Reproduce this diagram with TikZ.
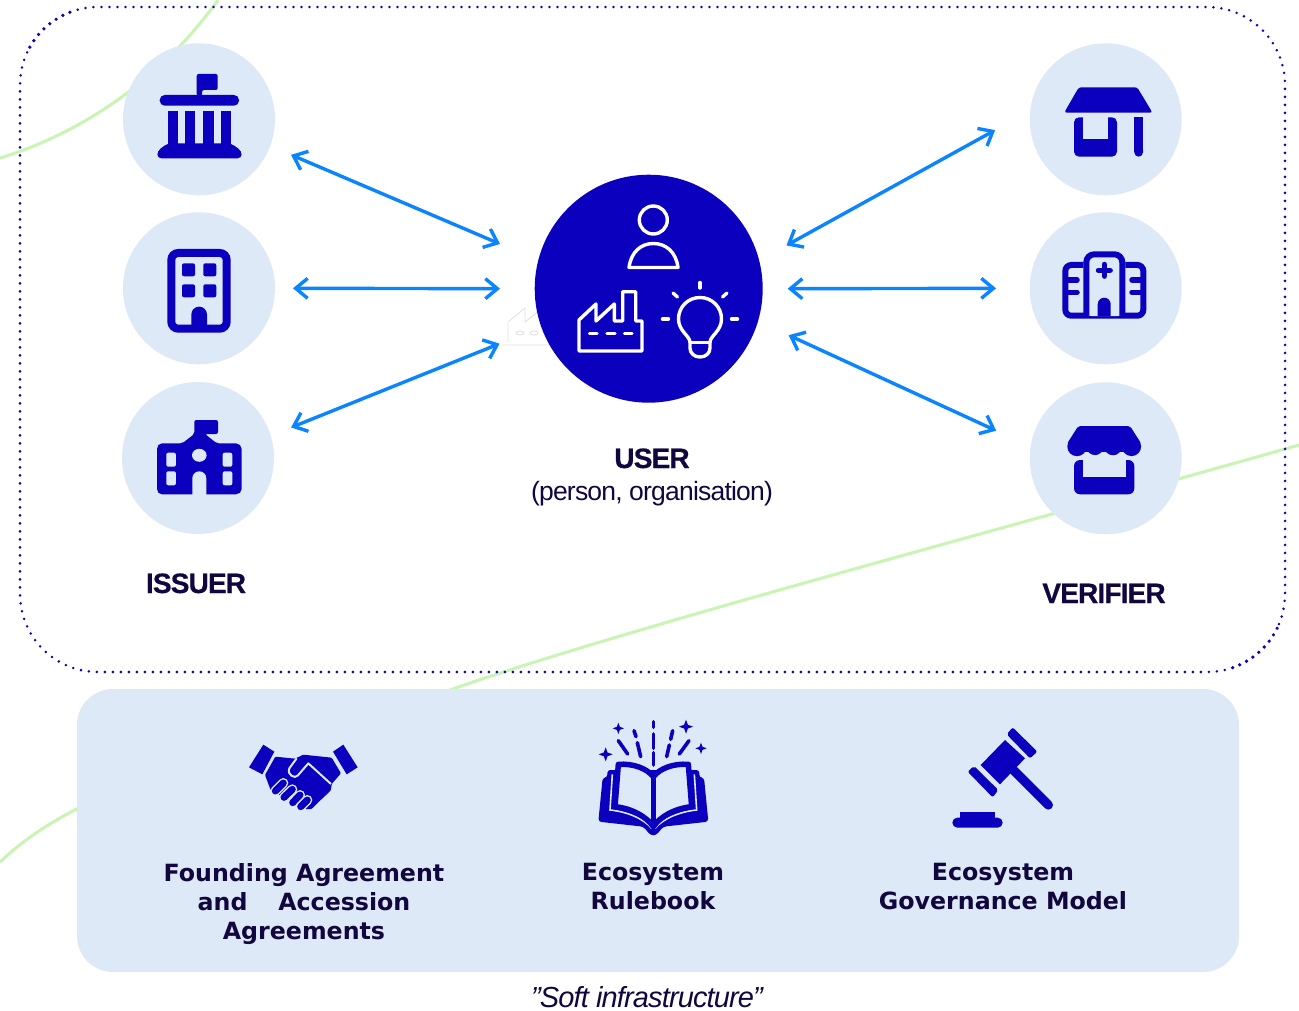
\documentclass[tikz,border=0pt]{standalone}
\usepackage{fontspec}
\usetikzlibrary{arrows.meta}
\setmainfont{Liberation Sans}
\newfontfamily\headfont[LetterSpace=-3,BoldFeatures={FakeBold=0.6}]{Liberation Sans}
\newfontfamily\panelfont{DejaVu Sans}
\definecolor{royal}{HTML}{0A00BD}
\definecolor{pale}{HTML}{DDE9F6}
\definecolor{sky}{HTML}{0A84FF}
\definecolor{ink}{HTML}{12063F}
\definecolor{lime}{HTML}{C9F5B4}
\begin{document}
\begin{tikzpicture}[
    x=1pt,y=-1pt,
    peer/.style={circle,fill=pale,minimum size=152pt,inner sep=0pt,outer sep=18pt},
    hub/.style={circle,fill=royal,minimum size=228pt,inner sep=0pt,outer sep=25pt},
    link/.style={draw=sky,line width=3.4pt,{Straight Barb[length=12pt,width=20pt]}-{Straight Barb[length=12pt,width=20pt]}},
    role/.style={text=ink,font=\headfont\bfseries\fontsize{28}{30}\selectfont,anchor=base},
    pact/.style={text=ink,align=center,anchor=north,font=\panelfont\bfseries\fontsize{23.7}{29}\selectfont},
    glyph/.style={fill=royal,rounded corners=2pt},
    thin glyph/.style={draw=white,line width=3.4pt,line cap=round,line join=round},
    rim/.style={royal,line width=2.8pt,line cap=round,dash pattern=on 0pt off 8pt}
]
    \useasboundingbox (0,0) rectangle (1299,1011);
    \fill[white] (0,0) rectangle (1299,1011);

    % Background strokes
    \draw[lime,line width=3pt] (0,158) .. controls (60,140) and (150,95) .. (218,0);
    \draw[lime,line width=3pt] (1299,445) .. controls (1000,530) and (620,630) .. (450,690) .. controls (250,745) and (85,780) .. (0,862);

    % Frame
    \draw[rim] (98,85) ++(249:78) arc[start angle=249,end angle=270,radius=78] -- (1207,7) arc[start angle=270,end angle=360,radius=78] -- (1285,594) arc[start angle=0,end angle=26,radius=78];
    \draw[rim] (1207,594) ++(71:78) arc[start angle=71,end angle=90,radius=78] -- (98,672) arc[start angle=90,end angle=180,radius=78] -- (20,85) arc[start angle=180,end angle=209,radius=78];
    \foreach \a in {209,214.7,...,249}
        \fill[royal] (98,85) ++(\a:78) circle[radius=1.8];
    \foreach \a in {26,31.6,...,71}
        \fill[royal] (1207,594) ++(\a:78) circle[radius=1.8];

    % Faint factory behind the user
    \draw[black!12,line width=.8pt] (502,345) -- (550,345) (508,342) -- (508,322) -- (525,308) -- (525,322) -- (540,310);
    \draw[black!12,line width=.8pt] (520,333) ellipse[x radius=4,y radius=2] (534,333) ellipse[x radius=4,y radius=2];

    % Circles
    \node[peer] (issuerA) at (199,119.3) {};
    \node[peer] (issuerB) at (199,288.3) {};
    \node[peer] (issuerC) at (198,458) {};
    \node[hub] (user) at (648.7,288.7) {};
    \node[peer] (verifierA) at (1105.7,119.3) {};
    \node[peer] (verifierB) at (1105.7,288.3) {};
    \node[peer] (verifierC) at (1105.7,458.3) {};

    % Arrows
    \draw[link,shorten <=4.7pt,shorten >=16.4pt] (issuerA.-21.1) -- (user.164);
    \draw[link,shorten >=9.7pt] (issuerB.0) -- (user.180);
    \draw[link,shorten <=4pt,shorten >=20pt] (issuerC.18.3) -- (user.200.6);
    \draw[link,shorten <=5.5pt,shorten >=19pt] (user.17.6) -- (verifierA.181);
    \draw[link,shorten >=15.7pt] (user.0) -- (verifierB.180);
    \draw[link,shorten <=8.5pt,shorten >=19.3pt] (user.-18.8) -- (verifierC.168.8);

    % Labels
    \node[role] (issuerlabel) at (196,593) {ISSUER};
    \node[role] (verifierlabel) at (1104,603) {VERIFIER};
    \node[role] (userlabel) at (652,468) {USER};
    \node[text=ink,anchor=base,font=\headfont\fontsize{26.5}{28}\selectfont] (usernote) at (652,500) {(person, organisation)};

    % Issuer icons
    \fill[glyph] (196.7,96) -- (196.7,74) -- (217.7,74) -- (217.7,90) -- (202,90) -- (202,96) -- cycle;
    \fill[royal,rounded corners=5pt] (159.7,95) rectangle (239,105.7);
    \foreach \xa/\xb in {167.7/178,184.7/195.3,203.3/214,220.7/231}
        \fill[royal] (\xa,111) rectangle (\xb,145);
    \fill[royal,rounded corners=4pt] (167.7,143.3) -- (231,143.3) -- (241.7,151) -- (241.7,158.3) -- (157.3,158.3) -- (157.3,151) -- cycle;

    \draw[royal,line width=8pt,rounded corners=7pt] (171.3,253) rectangle (226.7,328.7);
    \foreach \xa in {182,203.3}
        \foreach \ya in {263.3,284.3}
            \fill[royal,rounded corners=2pt] (\xa,\ya) rectangle ++(13,13);
    \fill[royal] (191.3,330) -- (191.3,314.5) arc[start angle=180,end angle=360,radius=7.85] -- (207,330) -- cycle;

    \fill[glyph] (194.3,434) -- (194.3,420) -- (218,420) -- (218,434) -- (205,434) -- (216.7,443.3) -- (234,443.3) .. controls (239,443.3) and (241.7,446) .. (241.7,451) -- (241.7,487) .. controls (241.7,492) and (239,494.3) .. (234,494.3) -- (164,494.3) .. controls (159,494.3) and (157,492) .. (157,487) -- (157,451) .. controls (157,446) and (159,443.3) .. (164,443.3) -- (182.3,443.3) -- cycle;
    \fill[pale] (199.3,455.3) ellipse[x radius=7.3,y radius=6.5];
    \foreach \xa in {166.3,222.7}
        \foreach \ya in {452.7,471.3}
            \fill[pale,rounded corners=2pt] (\xa,\ya) rectangle ++(9.6,14);
    \fill[pale] (192.3,495) -- (192.3,478.3) arc[start angle=180,end angle=360,radius=7] -- (206.3,495) -- cycle;

    % User icons
    \draw[thin glyph] (653.3,220) circle[radius=14];
    \draw[thin glyph] (629,267.5) .. controls (631,252) and (641,243.5) .. (653.3,243.5) .. controls (666,243.5) and (676,252) .. (678,267.5) -- cycle;
    \draw[thin glyph] (579,351) -- (579,320) -- (596,304) -- (596,321) -- (614.3,304) -- (614.3,321) -- (622.7,321) -- (622.7,291.7) -- (635.7,291.7) -- (635.7,321) -- (642,321) -- (642,351) -- cycle;
    \foreach \xa/\xb in {589.5/597,607/615,624.5/632}
        \draw[thin glyph] (\xa,333.3) -- (\xb,333.3);
    \draw[thin glyph] (690,342.3) .. controls (690,336) and (678.5,331) .. (678.5,319) .. controls (678.5,307) and (688,297.5) .. (700,297.5) .. controls (712,297.5) and (721.5,307) .. (721.5,319) .. controls (721.5,331) and (710,336) .. (710,342.3) -- (710,348) .. controls (710,353) and (706,357) .. (700,357) .. controls (694,357) and (690,353) .. (690,348) -- cycle;
    \draw[thin glyph] (690,342.3) -- (710,342.3);
    \draw[thin glyph] (700,282.5) -- (700,288);
    \draw[thin glyph] (673,293) -- (677.5,297);
    \draw[thin glyph] (727,293) -- (722.5,297);
    \draw[thin glyph] (662.5,319) -- (668.5,319);
    \draw[thin glyph] (731.5,319) -- (737.5,319);

    % Verifier icons
    \fill[royal,rounded corners=2.5pt] (1078.8,87.3) -- (1137.2,87.3) -- (1152.5,112.7) -- (1064.2,112.7) -- cycle;
    \fill[royal,rounded corners=5pt] (1074,117.3) -- (1074,156.7) -- (1117,156.7) -- (1117,117.3) -- cycle;
    \fill[pale] (1082.7,116) rectangle (1108.3,139.3);
    \draw[royal,line width=8.7pt] (1138.65,117.3) -- (1138.65,152.3);
    \fill[royal] (1134.3,150) -- (1143,150) -- (1143,152.3) arc[start angle=0,end angle=180,radius=4.35] -- cycle;

    \draw[royal,line width=6pt,rounded corners=6pt] (1065.3,265) rectangle (1143.3,315.7);
    \fill[pale,rounded corners=8pt] (1083.3,251.3) rectangle (1125.3,316);
    \draw[royal,line width=6pt,rounded corners=8pt] (1086.3,315.7) -- (1086.3,254.3) -- (1122.3,254.3) -- (1122.3,315.7);
    \draw[royal,line width=5.5pt,line cap=round] (1098.5,270.3) -- (1110.1,270.3) (1104.3,264.5) -- (1104.3,276.1);
    \fill[royal] (1097.7,316) -- (1097.7,304.2) arc[start angle=180,end angle=360,radius=6.5] -- (1110.7,316) -- cycle;
    \foreach \ya in {280,292.3} {
        \draw[royal,line width=5.5pt,line cap=round] (1068,\ya) -- (1077,\ya);
        \draw[royal,line width=5.5pt,line cap=round] (1141,\ya) -- (1132,\ya);
    }

    \fill[royal,rounded corners=2pt] (1078.3,426) -- (1130,426) -- (1141,443.3) -- (1067.3,443.3) -- cycle;
    \foreach \xa/\ra in {1077/9.7,1095/8.6,1113/8.8,1131.5/9.6}
        \fill[royal] (\xa,446.5) circle[radius=\ra];
    \fill[royal] (1077,443) rectangle (1131.5,451.5);
    \fill[royal,rounded corners=6pt] (1074,460) -- (1074,494.3) -- (1134.3,494.3) -- (1134.3,460) -- cycle;
    \fill[pale] (1082.7,459) rectangle (1126,477.3);

    % Panel
    \node[fill=pale,rounded corners=36pt,minimum width=1162pt,minimum height=283pt,inner sep=0pt] (panel) at (658,830.5) {};
    \node[pact] (founding) at (304,860) {Founding Agreement\\and\hspace{1.3em}Accession\\Agreements};
    \node[pact] (rulebook) at (653,860) {Ecosystem\\Rulebook};
    \node[pact] (model) at (1003,860) {Ecosystem\\Governance Model};
    \node[text=ink,anchor=base,inner sep=0pt,font=\headfont\itshape\fontsize{29}{30}\selectfont] (softnote) at (647,1007) {”Soft infrastructure”};

    % Handshake
    \begin{scope}[shift={(230,710)},scale=1/3]
        \fill[royal] (100,104) -- (133,125) -- (97,193) -- (57,172) -- cycle;
        \fill[royal] (340,104) -- (383,172) -- (350,193) -- (309,125) -- cycle;
        \fill[royal,rounded corners=1pt] (136,140) -- (195,146) -- (220,134) -- (305,143) -- (333,190) -- (305,222) -- (303,240) -- (285,258) -- (270,272) -- (245,297) -- (225,297) -- (122,240) -- (105,195) -- cycle;
        \draw[pale,line width=2pt,line join=round] (303,222) -- (235,160) -- (203,197) .. controls (195,207) and (170,195) .. (178,175) -- (200,145);
        \foreach \xa/\ya/\xb/\yb in {136/243/160/219,162/262/187/238,188/278/210/255,212/290/232/270} {
            \draw[pale,line width=10pt,line cap=round] (\xa,\ya) -- (\xb,\yb);
            \draw[royal,line width=7pt,line cap=round] (\xa,\ya) -- (\xb,\yb);
        }
    \end{scope}

    % Book
    \begin{scope}[shift={(580,710)},scale=1/3]
        \fill[royal,rounded corners=3pt] (55,335) -- (68,203) -- (82,203) -- (82,180) -- (358,180) -- (358,203) -- (372,203) -- (385,335) -- (250,350) -- (228,376) -- (212,376) -- (190,350) -- cycle;
        \draw[pale,line width=1.6pt] (97,193) -- (90,300) .. controls (140,305) and (190,325) .. (215,355);
        \draw[pale,line width=1.6pt] (343,193) -- (350,300) .. controls (300,305) and (250,325) .. (225,355);
        \draw[royal,fill=pale,line width=5.5pt,line join=round] (115,163) .. controls (160,160) and (200,175) .. (220,200) .. controls (240,175) and (280,160) .. (325,163) -- (335,290) .. controls (285,295) and (240,320) .. (220,350) .. controls (200,320) and (155,295) .. (105,290) -- cycle;
        \draw[royal,line width=5.5pt] (220,200) -- (220,350);
        \foreach \xa/\ya/\xb/\yb in {220/35/220/52,220/72/220/115,220/128/220/165,162/62/168/80,172/98/182/140,115/92/143/132,278/62/272/88,268/105/260/140,327/92/298/132}
            \draw[royal,line width=3.6pt,line cap=round] (\xa,\ya) -- (\xb,\yb);
        \foreach \xa/\ya/\ra in {115/55/17,77/133/21,318/50/21,363/115/17}
            \fill[royal,line join=round] (\xa-\ra,\ya) -- (\xa-.27*\ra,\ya-.27*\ra) -- (\xa,\ya-\ra) -- (\xa+.27*\ra,\ya-.27*\ra) -- (\xa+\ra,\ya) -- (\xa+.27*\ra,\ya+.27*\ra) -- (\xa,\ya+\ra) -- (\xa-.27*\ra,\ya+.27*\ra) -- cycle;
    \end{scope}

    % Gavel
    \begin{scope}[shift={(930,715)},scale=1/3]
        \fill[royal] (225,75) -- (285,130) -- (210,208) -- (152,150) -- cycle;
        \fill[royal,rounded corners=2pt] (248,37) -- (322,110) -- (300,130) -- (230,58) -- cycle;
        \fill[royal,rounded corners=2pt] (132,153) -- (205,225) -- (188,247) -- (113,170) -- cycle;
        \draw[royal,line width=9.3pt,line cap=round] (240,155) -- (355,270);
        \fill[royal] (90,292) rectangle (195,312);
        \fill[royal,rounded corners=5pt] (67,308) rectangle (218,338);
    \end{scope}
\end{tikzpicture}
\end{document}
